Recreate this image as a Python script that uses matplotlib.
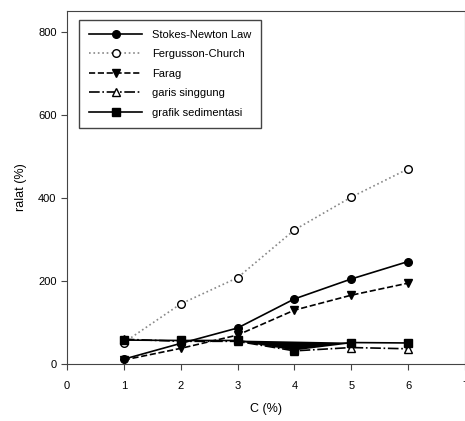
import numpy as np
import matplotlib.pyplot as plt

plt.rcParams['font.family'] = ['Liberation Sans', 'DejaVu Sans']

# data
c = [1, 2, 3, 4, 5, 6]
stokes = [12, 50, 87, 157, 205, 247]
fergusson = [52, 145, 208, 323, 402, 470]
farag = [10, 38, 70, 130, 166, 195]
singgung = [60, 55, 55, 32, 40, 37]
sedimentasi = [58, 57, 57, 35, 52, 51]

fig = plt.figure(figsize=(4.65, 4.21), dpi=100)
ax = fig.add_axes([0.144, 0.135, 0.856, 0.839])

ax.plot(c, stokes, '-', color='black', lw=1.2, marker='o', ms=5.5,
        label='Stokes-Newton Law')
ax.plot(c, fergusson, ':', color='#888888', lw=1.2, marker='o', ms=5.5,
        mfc='white', mec='black', label='Fergusson-Church')
ax.plot(c, farag, '--', color='black', lw=1.2, marker='v', ms=5.5,
        label='Farag')
ax.plot(c, singgung, '-.', color='black', lw=1.2, marker='^', ms=5.5,
        mfc='white', mec='black', label='garis singgung')
ax.plot(c, sedimentasi, '-', color='black', lw=1.2, marker='s', ms=5.5,
        label='grafik sedimentasi')
# black wedge between points 3 and 5 of the sedimentasi curve
ax.fill(c[2:5], sedimentasi[2:5], color='black', lw=0)

ax.set_xlim(0, 7)
ax.set_ylim(0, 850)
ax.set_xticks(range(0, 8))
ax.set_yticks([0, 200, 400, 600, 800])
ax.tick_params(direction='out', length=4, labelsize=8, color='#444444')
ax.tick_params(axis='x', pad=8)
for s in ax.spines.values():
    s.set_color('#444444')

ax.set_xlabel('C (%)', fontsize=9, labelpad=9)
ax.set_ylabel('ralat (%)', fontsize=9, labelpad=8)

leg = ax.legend(loc='upper left', bbox_to_anchor=(0.03, 0.975), fontsize=8,
                handlelength=4.8, handletextpad=0.9, borderpad=0.9,
                labelspacing=0.85, borderaxespad=0, fancybox=False,
                framealpha=1, edgecolor='#444444')
leg.get_frame().set_linewidth(1)

fig.savefig('out.png', dpi=100)
